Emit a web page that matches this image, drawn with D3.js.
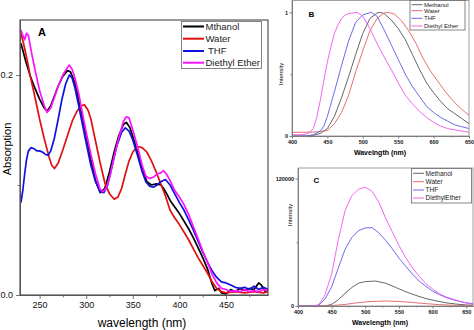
<!DOCTYPE html>
<html>
<head>
<meta charset="utf-8">
<script src="https://cdnjs.cloudflare.com/ajax/libs/d3/7.8.5/d3.min.js"></script>
<style>
  body { margin: 0; background: #fff; }
  svg text { font-family: "Liberation Sans", Arial, sans-serif; }
</style>
</head>
<body>
<div id="chart"></div>
<script>
// ---- absorption spectra (panel A): [wavelength nm, absorbance]
var absMethanol = [[230,0.229],[235,0.213],[240,0.199],[245,0.188],[250,0.178],[255,0.170],[258,0.167],[262,0.172],[266,0.181],[270,0.190],[275,0.199],[280,0.204],[283,0.203],[287,0.195],[290,0.185],[295,0.165],[300,0.145],[305,0.123],[310,0.104],[315,0.093],[320,0.097],[325,0.112],[330,0.130],[335,0.145],[340,0.155],[343,0.157],[347,0.152],[350,0.144],[355,0.130],[360,0.116],[365,0.103],[370,0.100],[375,0.101],[380,0.100],[383,0.097],[387,0.091],[390,0.086],[395,0.080],[400,0.074],[405,0.067],[410,0.060],[415,0.052],[420,0.043],[425,0.034],[430,0.024],[435,0.010],[438,0.004],[442,0.006],[445,0.002],[450,0.001],[455,0.005],[460,0.003],[465,0.006],[470,0.004],[475,0.006],[480,0.005],[485,0.011],[488,0.009],[492,0.003],[495,0.004]];
var absWater = [[230,0.238],[233,0.228],[237,0.212],[240,0.199],[245,0.180],[250,0.160],[255,0.142],[260,0.126],[263,0.118],[266,0.115],[270,0.120],[275,0.132],[280,0.145],[285,0.158],[290,0.167],[295,0.172],[298,0.173],[302,0.168],[305,0.160],[310,0.140],[315,0.120],[320,0.102],[325,0.092],[330,0.087],[334,0.089],[338,0.097],[342,0.110],[346,0.122],[350,0.130],[355,0.135],[360,0.134],[365,0.130],[370,0.122],[375,0.112],[380,0.101],[385,0.090],[390,0.077],[395,0.070],[400,0.064],[405,0.057],[410,0.050],[415,0.042],[420,0.034],[425,0.027],[430,0.020],[435,0.012],[440,0.006],[445,0.003],[450,0.002],[460,0.003],[470,0.002],[480,0.003],[490,0.002],[495,0.003]];
var absTHF = [[230,0.084],[232,0.095],[234,0.110],[236,0.123],[238,0.131],[241,0.134],[244,0.133],[247,0.131],[250,0.131],[253,0.130],[256,0.128],[259,0.127],[262,0.131],[266,0.143],[270,0.160],[274,0.178],[278,0.192],[282,0.200],[285,0.197],[288,0.188],[292,0.172],[296,0.155],[300,0.138],[305,0.118],[310,0.103],[315,0.094],[319,0.093],[323,0.100],[328,0.118],[333,0.136],[338,0.148],[342,0.152],[346,0.149],[350,0.141],[355,0.127],[360,0.112],[364,0.103],[368,0.099],[372,0.098],[376,0.100],[380,0.103],[385,0.105],[390,0.100],[395,0.092],[400,0.084],[405,0.077],[410,0.068],[415,0.059],[420,0.049],[425,0.039],[430,0.030],[435,0.022],[440,0.016],[445,0.012],[450,0.011],[455,0.009],[460,0.007],[465,0.006],[470,0.007],[475,0.005],[480,0.008],[485,0.005],[490,0.007],[495,0.005]];
var absEther = [[230,0.241],[232,0.236],[234,0.232],[236,0.238],[238,0.236],[241,0.222],[245,0.205],[250,0.186],[255,0.172],[258,0.166],[262,0.170],[266,0.180],[270,0.190],[275,0.200],[280,0.207],[282,0.209],[285,0.205],[288,0.197],[292,0.183],[296,0.165],[300,0.148],[305,0.128],[310,0.110],[315,0.096],[318,0.094],[322,0.098],[326,0.110],[330,0.126],[335,0.143],[340,0.158],[343,0.162],[346,0.161],[350,0.150],[355,0.135],[360,0.118],[364,0.108],[368,0.106],[372,0.107],[376,0.110],[380,0.111],[383,0.113],[386,0.110],[390,0.104],[395,0.095],[400,0.089],[405,0.082],[410,0.073],[415,0.062],[420,0.051],[425,0.040],[430,0.030],[435,0.019],[440,0.011],[445,0.006],[450,0.005],[455,0.003],[460,0.004],[465,0.003],[470,0.005],[475,0.003],[480,0.004],[485,0.003],[490,0.005],[495,0.004]];

// ---- normalised emission (panel B)
var normMethanol = [[400,0.0],[420,0.0],[430,0.005],[440,0.02],[450,0.06],[460,0.16],[470,0.31],[480,0.48],[490,0.66],[500,0.83],[510,0.95],[520,0.995],[525,1.0],[530,0.99],[540,0.94],[550,0.87],[560,0.78],[570,0.66],[580,0.54],[590,0.43],[600,0.35],[610,0.28],[620,0.22],[630,0.18],[640,0.14],[650,0.10]];
var normWater = [[400,0.03],[420,0.03],[440,0.035],[450,0.045],[460,0.10],[470,0.19],[480,0.33],[490,0.52],[500,0.69],[510,0.85],[520,0.95],[530,0.995],[536,1.0],[545,0.985],[555,0.93],[565,0.85],[575,0.75],[585,0.63],[595,0.53],[605,0.45],[615,0.37],[625,0.30],[635,0.24],[645,0.19],[650,0.17]];
var normTHF = [[400,0.0],[420,0.0],[430,0.01],[440,0.04],[445,0.08],[450,0.16],[460,0.36],[470,0.57],[480,0.77],[490,0.92],[500,0.98],[512,1.0],[520,0.97],[530,0.86],[540,0.74],[550,0.62],[560,0.50],[570,0.40],[580,0.32],[590,0.24],[600,0.19],[610,0.15],[620,0.12],[630,0.09],[640,0.075],[650,0.06]];
var normEther = [[400,0.01],[410,0.01],[420,0.015],[425,0.03],[430,0.06],[435,0.15],[440,0.29],[445,0.45],[450,0.60],[455,0.72],[460,0.83],[465,0.90],[470,0.95],[475,0.98],[480,0.99],[492,1.0],[500,0.97],[510,0.87],[520,0.75],[530,0.64],[540,0.54],[550,0.43],[560,0.33],[570,0.26],[580,0.20],[590,0.15],[600,0.11],[610,0.08],[620,0.06],[630,0.05],[640,0.04],[650,0.03]];

// ---- emission intensity (panel C)
var emMethanol = [[400,0],[440,0],[450,1500],[460,6000],[470,12000],[480,17500],[490,21500],[500,23000],[515,23500],[530,21500],[545,17500],[560,13500],[575,10000],[590,7000],[605,4800],[620,3000],[635,1800],[650,1000],[660,700]];
var emWater = [[400,0],[450,300],[470,1500],[490,3200],[510,4300],[530,4700],[550,4300],[570,3300],[590,2200],[610,1300],[630,700],[650,400],[660,300]];
var emTHF = [[400,0],[430,300],[440,6500],[450,18000],[460,36000],[470,53500],[480,64500],[490,71000],[500,73500],[510,73800],[520,69000],[530,62000],[540,54000],[550,45000],[560,37500],[570,30000],[580,23500],[590,18500],[600,14000],[610,10800],[620,8000],[630,6000],[640,4300],[650,3000],[660,2200]];
var emEther = [[400,0],[420,0],[430,1000],[435,5000],[440,10500],[450,30000],[460,63000],[470,90000],[480,104000],[490,110000],[500,112000],[510,108000],[520,98000],[530,83000],[540,70000],[550,57000],[560,45500],[570,36000],[580,28000],[590,21000],[600,16000],[610,11500],[620,8500],[630,6500],[640,4500],[650,2800],[660,1500]];

// legend names per panel
var namesA = ["Mthanol", "Water", " THF", "Diethyl Ether"];
var namesB = ["Methanol", "Water", "THF", "Diethyl Ether"];
var namesC = ["Methanol", "Water", "THF", "DiethylEther"];

// tick values
var ticksAx = [250, 300, 350, 400, 450];
var minorAx = [275, 325, 375, 425, 475];
var ticksAy = [0, 0.2];
var minorAy = [0.1];
var ticksBx = [400, 450, 500, 550, 600, 650];
var minorBx = [425, 475, 525, 575, 625];
var ticksBy = [0, 1];
var minorBy = [0.5];
var ticksCx = [400, 450, 500, 550, 600, 650];
var minorCx = [425, 475, 525, 575, 625];
var ticksCy = [0, 120000];
var minorCy = [60000];

var colorsA = ["#000000", "#e01010", "#1010e0", "#ff10ff"];
var colorsBC = ["#555555", "#e06060", "#5a5ae6", "#ee55ee"];

var svg = d3.select("#chart").append("svg")
  .attr("width", 474).attr("height", 330);

// draws a bottom + left axis pair with major/minor ticks
function axes(x, y, xb, yl, o) {
  var gx = svg.append("g").attr("transform", "translate(0," + xb + ")")
    .call(d3.axisBottom(x).tickValues(o.xt).tickSize(o.tk).tickSizeOuter(0).tickPadding(o.pad).tickFormat(o.xf));
  svg.append("g").attr("transform", "translate(0," + xb + ")")
    .call(d3.axisBottom(x).tickValues(o.xm).tickSize(o.tk * 0.6).tickSizeOuter(0).tickFormat(""));
  var gy = svg.append("g").attr("transform", "translate(" + yl + ",0)")
    .call(d3.axisLeft(y).tickValues(o.yt).tickSize(o.tk).tickSizeOuter(0).tickPadding(o.pad).tickFormat(o.yf));
  svg.append("g").attr("transform", "translate(" + yl + ",0)")
    .call(d3.axisLeft(y).tickValues(o.ym).tickSize(o.tk * 0.6).tickSizeOuter(0).tickFormat(""));
  svg.selectAll(".domain, .tick line").attr("stroke", o.stroke || "#333");
  [gx, gy].forEach(function(g) {
    g.attr("font-family", null).attr("font-size", null)
      .selectAll("text").style("font-size", o.fs).style("font-weight", o.fw).attr("fill", "#111");
  });
}

function curves(id, x, y, sets, colors, width, box) {
  svg.append("clipPath").attr("id", id).append("rect")
    .attr("x", box[0]).attr("y", box[1]).attr("width", box[2] - box[0]).attr("height", box[3] - box[1]);
  var line = d3.line().x(function(d) { return x(d[0]); }).y(function(d) { return y(d[1]); });
  svg.append("g").attr("clip-path", "url(#" + id + ")")
    .selectAll("path").data(sets).enter().append("path")
    .attr("d", line)
    .attr("fill", "none")
    .attr("stroke", function(d, i) { return colors[i]; })
    .attr("stroke-width", width)
    .attr("stroke-linejoin", "round");
}

function legend(x0, y0, w, h, names, colors, fs, lw, rowY, lineLen, sw) {
  var g = svg.append("g");
  g.append("rect").attr("x", x0).attr("y", y0).attr("width", w).attr("height", h)
    .attr("fill", "#fff").attr("stroke", "#666").attr("stroke-width", 0.8);
  names.forEach(function(n, i) {
    g.append("line").attr("x1", x0 + 1.5).attr("x2", x0 + 1.5 + lineLen)
      .attr("y1", rowY[i]).attr("y2", rowY[i]).attr("stroke", colors[i]).attr("stroke-width", sw);
    g.append("text").attr("x", x0 + 3 + lineLen).attr("y", rowY[i]).attr("dy", "0.35em")
      .style("font-size", fs).attr("fill", "#222").style("white-space", "pre").text(n);
  });
}

// ===== panel A : absorption
var xA = d3.scaleLinear().domain([229, 495]).range([20, 268]);
var yA = d3.scaleLinear().domain([0, 0.25]).range([295, 20]);
curves("clipA", xA, yA, [absMethanol, absWater, absTHF, absEther], colorsA, 1.7, [20, 20, 268, 295]);
axes(xA, yA, 295, 20, { xt: ticksAx, xm: minorAx, yt: ticksAy, ym: minorAy, tk: 4, pad: 3,
  xf: d3.format("d"), yf: d3.format(".1f"), fs: "9px", fw: "normal", stroke: "#333" });
svg.append("rect").attr("x", 20).attr("y", 20).attr("width", 248).attr("height", 275)
  .attr("fill", "none").attr("stroke", "#333").attr("stroke-width", 1);
legend(181.5, 21.5, 80, 47, namesA, colorsA, "9.5px", 0, [26.5, 38.7, 51, 62.7], 21, 2);
svg.append("text").attr("x", 42).attr("y", 36).attr("text-anchor", "middle")
  .style("font-size", "11px").style("font-weight", "bold").text("A");
svg.append("text").attr("transform", "translate(11,149) rotate(-90)").attr("text-anchor", "middle")
  .style("font-size", "11px").text("Absorption");
svg.append("text").attr("x", 142).attr("y", 327).attr("text-anchor", "middle")
  .style("font-size", "12px").text("wavelength (nm)");

// ===== panel B : normalised emission
var xB = d3.scaleLinear().domain([400, 650]).range([292, 469]);
var yB = d3.scaleLinear().domain([0, 1.1]).range([136, 0]);
curves("clipB", xB, yB, [normMethanol, normWater, normTHF, normEther], colorsBC, 0.9, [292, 0, 469, 136]);
axes(xB, yB, 136, 292, { xt: ticksBx, xm: minorBx, yt: ticksBy, ym: minorBy, tk: 2.5, pad: 1.5,
  xf: d3.format("d"), yf: d3.format("d"), fs: "5.5px", fw: "bold", stroke: "#777" });
svg.append("rect").attr("x", 292).attr("y", 0.5).attr("width", 177).attr("height", 135.5)
  .attr("fill", "none").attr("stroke", "#888").attr("stroke-width", 0.8);
legend(410, 0.5, 55, 29.5, namesB, colorsBC, "6px", 0, [4.7, 10.7, 18.3, 26], 11, 0.9);
svg.append("text").attr("x", 311.5).attr("y", 17).attr("text-anchor", "middle")
  .style("font-size", "8px").style("font-weight", "bold").text("B");
svg.append("text").attr("transform", "translate(283,74) rotate(-90)").attr("text-anchor", "middle")
  .style("font-size", "6px").text("Intensity");
svg.append("text").attr("x", 380).attr("y", 155).attr("text-anchor", "middle")
  .style("font-size", "7px").style("font-weight", "bold").text("Wavelngth (nm)");

// ===== panel C : emission intensity
var xC = d3.scaleLinear().domain([400, 660]).range([298, 473]);
var yC = d3.scaleLinear().domain([0, 130000]).range([306, 168]);
curves("clipC", xC, yC, [emMethanol, emWater, emTHF, emEther], colorsBC, 0.9, [298, 168, 473, 306]);
axes(xC, yC, 306, 298, { xt: ticksCx, xm: minorCx, yt: ticksCy, ym: minorCy, tk: 2.5, pad: 1.5,
  xf: d3.format("d"), yf: d3.format("d"), fs: "5.5px", fw: "bold", stroke: "#777" });
svg.append("rect").attr("x", 298).attr("y", 168).attr("width", 175).attr("height", 138)
  .attr("fill", "none").attr("stroke", "#888").attr("stroke-width", 0.8);
legend(411.5, 168.5, 60, 34.5, namesC, colorsBC, "6.5px", 0, [173.3, 181.7, 190, 198], 11, 0.9);
svg.append("text").attr("x", 316.5).attr("y", 183).attr("text-anchor", "middle")
  .style("font-size", "8px").style("font-weight", "bold").text("C");
svg.append("text").attr("transform", "translate(292,215) rotate(-90)").attr("text-anchor", "middle")
  .style("font-size", "6px").text("Intensity");
svg.append("text").attr("x", 380).attr("y", 325).attr("text-anchor", "middle")
  .style("font-size", "7px").style("font-weight", "bold").text("Wavelength (nm)");
</script>
</body>
</html>
